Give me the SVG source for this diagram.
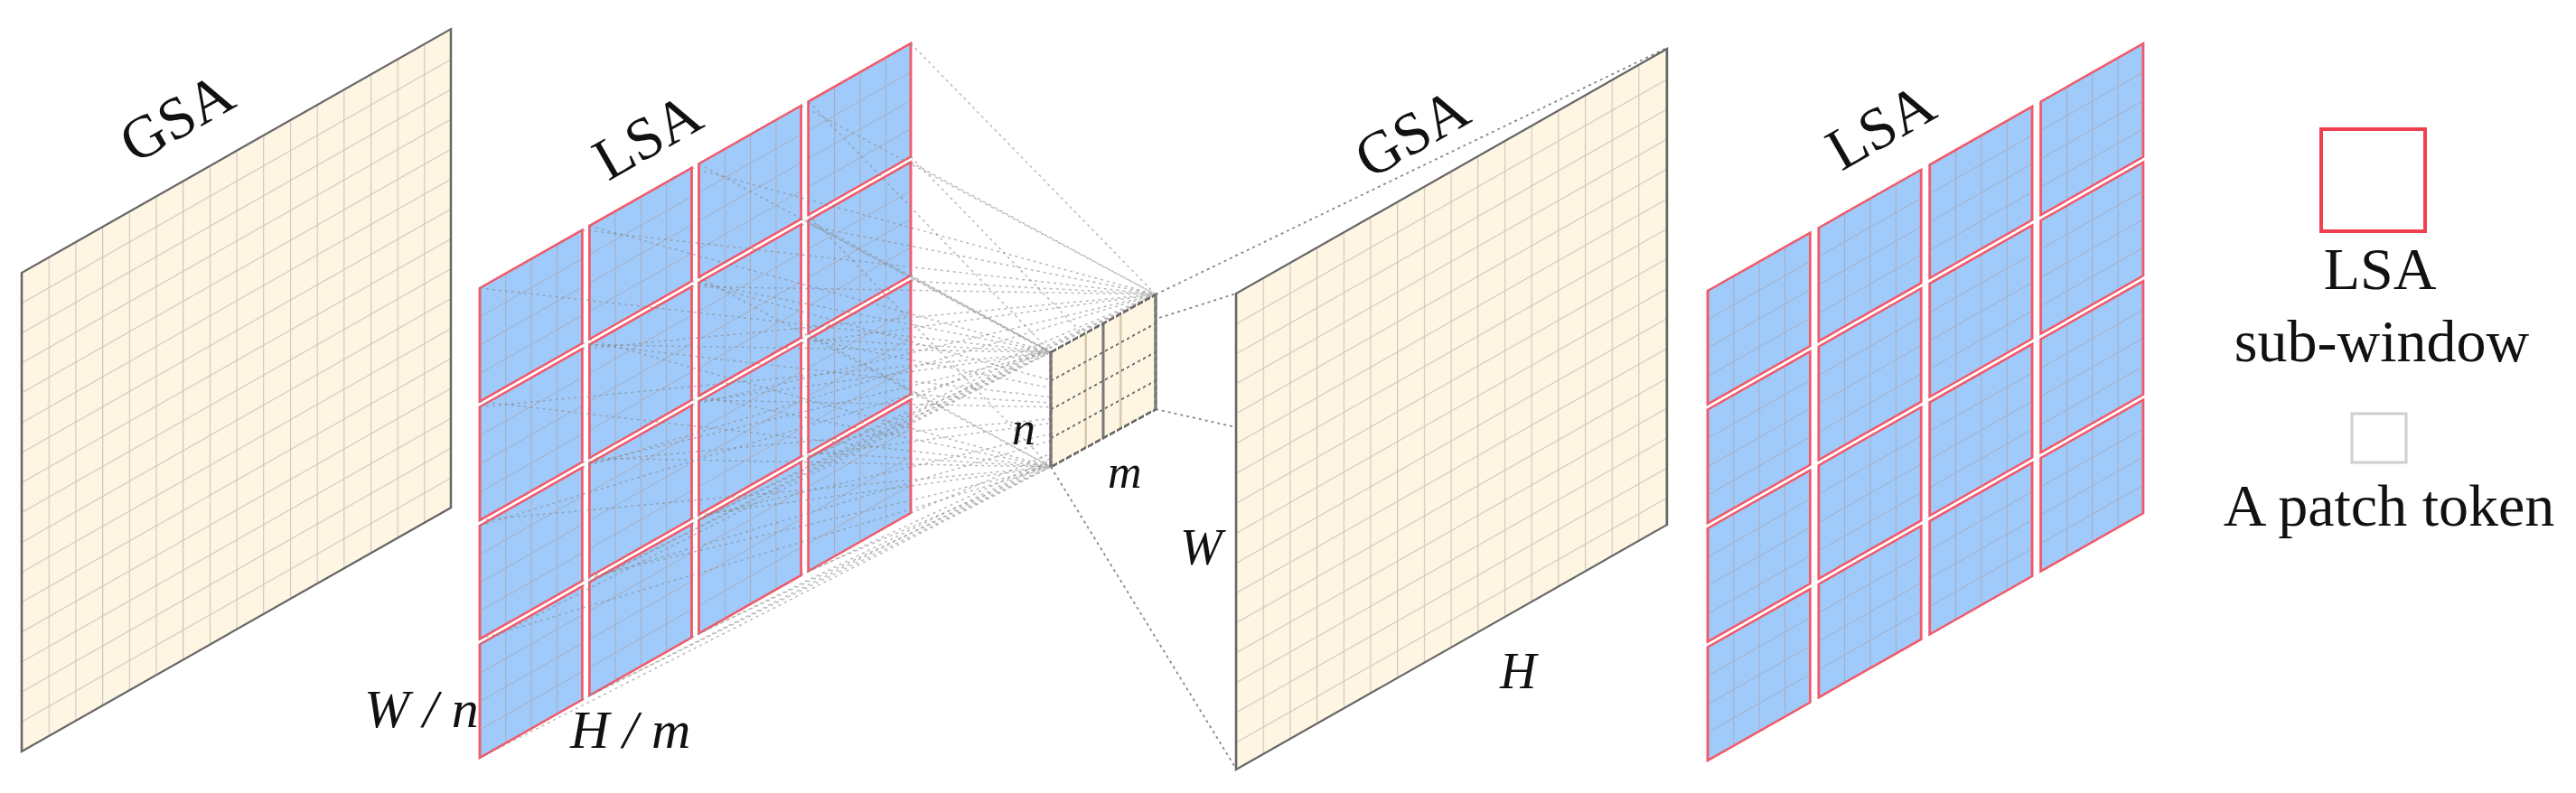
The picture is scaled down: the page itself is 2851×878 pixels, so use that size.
<svg xmlns="http://www.w3.org/2000/svg" width="2851" height="878" viewBox="0 0 2851 878">
<style>
.lbl{font-family:"Liberation Serif","Times New Roman",serif;font-size:66px;fill:#111}
.it{font-family:"Liberation Serif","Times New Roman",serif;font-style:italic;fill:#111}
.cream{fill:#fef6e2}
.sw{fill:#9fcaf9;stroke:#f25a6a;stroke-width:2.5}
.edge{fill:none;stroke:#666;stroke-width:2.5}
.fan{fill:none;stroke:#8a8a8a;stroke-width:1.5;stroke-dasharray:3 4;opacity:0.6}
.frus{fill:none;stroke:#888;stroke-width:1.8;stroke-dasharray:3 4}
</style>
<defs>
<pattern id="g16" patternUnits="userSpaceOnUse" width="29.69" height="33.1">
<path d="M0 0V33.1M0 0H29.69" fill="none" stroke="#cdc4bd" stroke-width="2.2"/>
</pattern>
<pattern id="gsub" patternUnits="userSpaceOnUse" width="28.31" height="31.375">
<path d="M0 0V31.375M0 0H28.31" fill="none" stroke="#a9abbd" stroke-width="2"/>
</pattern>
<g id="sw1">
<rect width="113.25" height="125.5" class="sw"/>
<rect width="113.25" height="125.5" fill="url(#gsub)"/>
<rect width="113.25" height="125.5" fill="none" stroke="#f25a6a" stroke-width="2.5"/>
</g>
</defs>

<g id="gsa1">
<g transform="translate(24,302) skewY(-29.6)">
<rect width="475" height="530" class="cream"/>
<rect width="475" height="530" fill="url(#g16)"/>
<rect width="475" height="530" class="edge"/>
</g>
<text class="lbl" transform="translate(149,182) rotate(-29.6)">GSA</text>
</g>

<g id="lsa1">
<g transform="translate(531,319) skewY(-29.6)">
<use href="#sw1" x="0" y="0"/><use href="#sw1" x="0" y="131.5"/><use href="#sw1" x="0" y="263"/><use href="#sw1" x="0" y="394.5"/>
<use href="#sw1" x="121.25" y="0"/><use href="#sw1" x="121.25" y="131.5"/><use href="#sw1" x="121.25" y="263"/><use href="#sw1" x="121.25" y="394.5"/>
<use href="#sw1" x="242.5" y="0"/><use href="#sw1" x="242.5" y="131.5"/><use href="#sw1" x="242.5" y="263"/><use href="#sw1" x="242.5" y="394.5"/>
<use href="#sw1" x="363.75" y="0"/><use href="#sw1" x="363.75" y="131.5"/><use href="#sw1" x="363.75" y="263"/><use href="#sw1" x="363.75" y="394.5"/>
</g>
<text class="lbl" transform="translate(673,201) rotate(-29.6)">LSA</text>
<text class="it" x="403" y="805" font-size="60">W / n</text>
<text class="it" x="631" y="828" font-size="60">H / m</text>
</g>

<g id="connectors">
<path class="fan" d="M531 319L1163 390M531 450.5L1163 390M531 582L1163 390M531 713.5L1163 390M652.25 250.1L1163 390M652.25 381.6L1163 390M652.25 513.1L1163 390M652.25 644.6L1163 390M773.5 181.3L1163 390M773.5 312.8L1163 390M773.5 444.3L1163 390M773.5 575.8L1163 390M894.75 112.4L1163 390M894.75 243.9L1163 390M894.75 375.4L1163 390M894.75 506.9L1163 390"/>
<path class="fan" d="M644.25 254.7L1279 326M644.25 386.2L1279 326M644.25 517.7L1279 326M644.25 649.2L1279 326M765.5 185.8L1279 326M765.5 317.3L1279 326M765.5 448.8L1279 326M765.5 580.3L1279 326M886.75 116.9L1279 326M886.75 248.4L1279 326M886.75 379.9L1279 326M886.75 511.4L1279 326M1008 48.1L1279 326M1008 179.6L1279 326M1008 311.1L1279 326M1008 442.6L1279 326"/>
<path class="fan" d="M531 444.5L1163 517M531 576L1163 517M531 707.5L1163 517M531 839L1163 517M652.25 375.6L1163 517M652.25 507.1L1163 517M652.25 638.6L1163 517M652.25 770.1L1163 517M773.5 306.8L1163 517M773.5 438.3L1163 517M773.5 569.8L1163 517M773.5 701.3L1163 517M894.75 237.9L1163 517M894.75 369.4L1163 517M894.75 500.9L1163 517M894.75 632.4L1163 517"/>
<path class="fan" d="M644.25 380.2L1279 453M644.25 511.7L1279 453M644.25 643.2L1279 453M644.25 774.7L1279 453M765.5 311.3L1279 453M765.5 442.8L1279 453M765.5 574.3L1279 453M765.5 705.8L1279 453M886.75 242.4L1279 453M886.75 373.9L1279 453M886.75 505.4L1279 453M886.75 636.9L1279 453M1008 173.6L1279 453M1008 305.1L1279 453M1008 436.6L1279 453M1008 568.1L1279 453"/>
<path class="frus" d="M1163 390L1368 325M1279 326L1845 53M1279 453L1368 473M1163 517L1368 851"/>
</g>

<g id="block">
<g transform="translate(1163,390) skewY(-28.8)">
<rect width="116" height="127" class="cream"/>
<path d="M38.7 0V127M77.3 0V127" stroke="#d8c8b0" stroke-width="2.5" fill="none"/>
<path d="M58 0V127" stroke="#777" stroke-width="3" fill="none"/>
<path d="M0 31.75H116M0 63.5H116M0 95.25H116" stroke="#666" stroke-width="2" stroke-dasharray="3 3" fill="none"/>
<rect width="116" height="127" fill="none" stroke="#666" stroke-width="3" stroke-dasharray="6 2"/>
<path d="M0 0V127M116 0V127" stroke="#777" stroke-width="3"/>
</g>
<text class="it" x="1120" y="492" font-size="52">n</text>
<text class="it" x="1226" y="540" font-size="52">m</text>
</g>

<g id="gsa2">
<g transform="translate(1368,325) skewY(-29.6)">
<rect width="477" height="527" class="cream"/>
<rect width="477" height="527" fill="url(#g16)"/>
<rect width="477" height="527" class="edge"/>
</g>
<text class="lbl" transform="translate(1516,199) rotate(-29.6)">GSA</text>
<text class="it" x="1306" y="625" font-size="56">W</text>
<text class="it" x="1660" y="762" font-size="56">H</text>
</g>

<g id="lsa2">
<g transform="translate(1890,322) skewY(-29.6)">
<use href="#sw1" x="0" y="0"/><use href="#sw1" x="0" y="131.5"/><use href="#sw1" x="0" y="263"/><use href="#sw1" x="0" y="394.5"/>
<use href="#sw1" x="122.9" y="0"/><use href="#sw1" x="122.9" y="131.5"/><use href="#sw1" x="122.9" y="263"/><use href="#sw1" x="122.9" y="394.5"/>
<use href="#sw1" x="245.8" y="0"/><use href="#sw1" x="245.8" y="131.5"/><use href="#sw1" x="245.8" y="263"/><use href="#sw1" x="245.8" y="394.5"/>
<use href="#sw1" x="368.7" y="0"/><use href="#sw1" x="368.7" y="131.5"/><use href="#sw1" x="368.7" y="263"/><use href="#sw1" x="368.7" y="394.5"/>
</g>
<text class="lbl" transform="translate(2038,190) rotate(-29.6)">LSA</text>
</g>

<g id="legend-lsa">
<rect x="2569" y="143" width="115" height="113" fill="#fff" stroke="#f04050" stroke-width="4"/>
<text class="lbl" x="2634" y="320" text-anchor="middle">LSA</text>
<text class="lbl" x="2636" y="400" text-anchor="middle">sub-window</text>
</g>
<g id="legend-patch">
<rect x="2603" y="458" width="60" height="54" fill="#fff" stroke="#cfcfcf" stroke-width="3"/>
<text class="lbl" x="2644" y="582" text-anchor="middle">A patch token</text>
</g>
</svg>
